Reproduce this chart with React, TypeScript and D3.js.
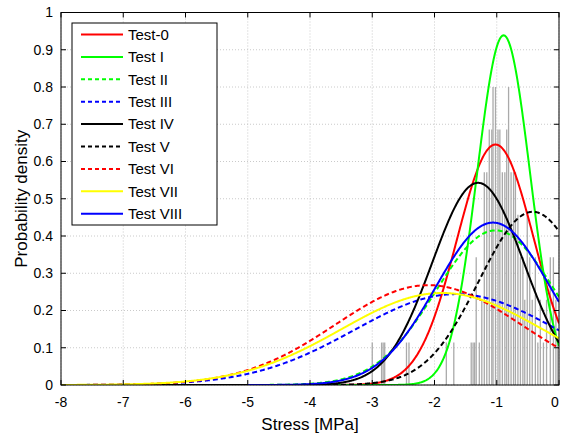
import React from "react";
import * as d3 from "d3";

const seriesNames = ["Test-0", "Test I", "Test II", "Test III", "Test IV", "Test V", "Test VI", "Test VII", "Test VIII"];
const seriesMeans = [-1.02, -0.89, -1.02, -1.65, -1.3, -0.42, -2.1, -1.88, -1.06];
const seriesSigmas = [0.618, 0.425, 0.961, 1.635, 0.735, 0.858, 1.488, 1.615, 0.915];
const seriesStarts = [-8, -8, -8, -8, -8, -8, -8, -8, -5];
const seriesColors = ["#ff0000", "#00ff00", "#00ff00", "#0000ff", "#000000", "#000000", "#ff0000", "#ffff00", "#0000ff"];
const seriesDashed = [false, false, true, true, false, true, true, false, false];

const histX = [
  -3.0, -2.85, -2.825, -2.8, -2.45, -2.41, -1.81, -1.69, -1.41, -1.38, -1.355,
  -1.33, -1.28, -1.24, -1.2, -1.16, -1.12, -1.08, -1.06, -1.02, -0.98, -0.95, -0.91, -0.87, -0.84,
  -0.81, -0.77, -0.73, -0.7, -0.66, -0.62, -0.58, -0.55, -0.51, -0.47, -0.43, -0.38, -0.34, -0.3,
  -0.25, -0.2, -0.14, -0.09, -0.05, -0.02,
];
const histY = [
  0.114, 0.114, 0.114, 0.114, 0.114, 0.114, 0.114, 0.114, 0.114, 0.114, 0.114,
  0.343, 0.114, 0.229, 0.571, 0.571, 0.686, 0.686, 0.8, 0.8, 0.686, 0.686, 0.571, 0.571, 0.686,
  0.8, 0.571, 0.571, 0.571, 0.457, 0.343, 0.343, 0.229, 0.457, 0.343, 0.229, 0.343, 0.114, 0.229,
  0.114, 0.229, 0.343, 0.343, 0.229, 0.114,
];

const xTicks = [-8, -7, -6, -5, -4, -3, -2, -1, 0];
const yTicks = [0, 0.1, 0.2, 0.3, 0.4, 0.5, 0.6, 0.7, 0.8, 0.9, 1];

const W = 561;
const H = 437;
const L = 61;
const R = 559;
const T = 12.5;
const B = 385;
const FONT = "'Liberation Sans', Arial, Helvetica, sans-serif";

function pdf(x: number, m: number, s: number) {
  return Math.exp(-((x - m) * (x - m)) / (2 * s * s)) / (s * Math.sqrt(2 * Math.PI));
}

export default function App() {
  const x = d3.scaleLinear().domain([-8, 0]).range([L, R]);
  const y = d3.scaleLinear().domain([0, 1]).range([B, T]);
  const line = d3
    .line<[number, number]>()
    .x((d) => x(d[0]))
    .y((d) => y(d[1]));

  const curves = seriesNames.map((name, i) => {
    const pts: [number, number][] = d3
      .range(seriesStarts[i], 0.0001, 0.01)
      .map((v) => [v, pdf(v, seriesMeans[i], seriesSigmas[i])] as [number, number]);
    return { name, d: line(pts) || "", color: seriesColors[i], dashed: seriesDashed[i] };
  });

  const legX = 72;
  const legY = 23;
  const legW = 145;
  const legH = 202;
  const rowH = 22.4;

  return (
    <svg
      width={W}
      height={H}
      style={{ position: "absolute", left: 0, top: 0, display: "block", background: "#fff" }}
      fontFamily={FONT}
    >
      <defs>
        <clipPath id="plot">
          <rect x={L} y={T} width={R - L} height={B - T} />
        </clipPath>
      </defs>
      <rect x={L} y={T} width={R - L} height={B - T} fill="#fff" />
      {/* grid */}
      {xTicks.map((t) => (
        <line key={"gx" + t} x1={x(t)} x2={x(t)} y1={T} y2={B} stroke="#bdbdbd" strokeWidth={0.8} strokeDasharray="1,2" />
      ))}
      {yTicks.map((t) => (
        <line key={"gy" + t} x1={L} x2={R} y1={y(t)} y2={y(t)} stroke="#bdbdbd" strokeWidth={0.8} strokeDasharray="1,2" />
      ))}
      {/* histogram + curves */}
      <g clipPath="url(#plot)">
        {histX.map((v, i) => (
          <line key={"h" + i} x1={x(v)} x2={x(v)} y1={y(0)} y2={y(histY[i])} stroke="#aaaaaa" strokeWidth={1.3} />
        ))}
        {curves.map((c) => (
          <path
            key={c.name}
            d={c.d}
            fill="none"
            stroke={c.color}
            strokeWidth={2}
            strokeDasharray={c.dashed ? "5,3" : undefined}
          />
        ))}
      </g>
      {/* axes box */}
      <rect x={L} y={T} width={R - L} height={B - T} fill="none" stroke="#000" strokeWidth={1} />
      {xTicks.map((t) => (
        <g key={"xt" + t}>
          <line x1={x(t)} x2={x(t)} y1={B} y2={B - 5} stroke="#000" />
          <line x1={x(t)} x2={x(t)} y1={T} y2={T + 5} stroke="#000" />
          <text x={Math.min(x(t), W - 6)} y={B + 22} textAnchor="middle" fontSize={14} fill="#000">
            {t}
          </text>
        </g>
      ))}
      {yTicks.map((t) => (
        <g key={"yt" + t}>
          <line x1={L} x2={L + 5} y1={y(t)} y2={y(t)} stroke="#000" />
          <line x1={R} x2={R - 5} y1={y(t)} y2={y(t)} stroke="#000" />
          <text x={L - 8} y={y(t)} dy="0.35em" textAnchor="end" fontSize={14} fill="#000">
            {t}
          </text>
        </g>
      ))}
      <text x={(L + R) / 2} y={430} textAnchor="middle" fontSize={17} fill="#000">
        Stress [MPa]
      </text>
      <text
        transform={`translate(27,${(T + B) / 2}) rotate(-90)`}
        textAnchor="middle"
        fontSize={17}
        fill="#000"
      >
        Probability density
      </text>
      {/* legend */}
      <rect x={legX} y={legY} width={legW} height={legH} fill="#fff" stroke="#000" strokeWidth={1} />
      {curves.map((c, i) => {
        const yy = legY + 11.5 + i * rowH;
        return (
          <g key={"lg" + i}>
            <line
              x1={legX + 9}
              x2={legX + 51}
              y1={yy}
              y2={yy}
              stroke={c.color}
              strokeWidth={2}
              strokeDasharray={c.dashed ? "4,3" : undefined}
            />
            <text x={legX + 56} y={yy} dy="0.35em" fontSize={15} fill="#000">
              {c.name}
            </text>
          </g>
        );
      })}
    </svg>
  );
}
